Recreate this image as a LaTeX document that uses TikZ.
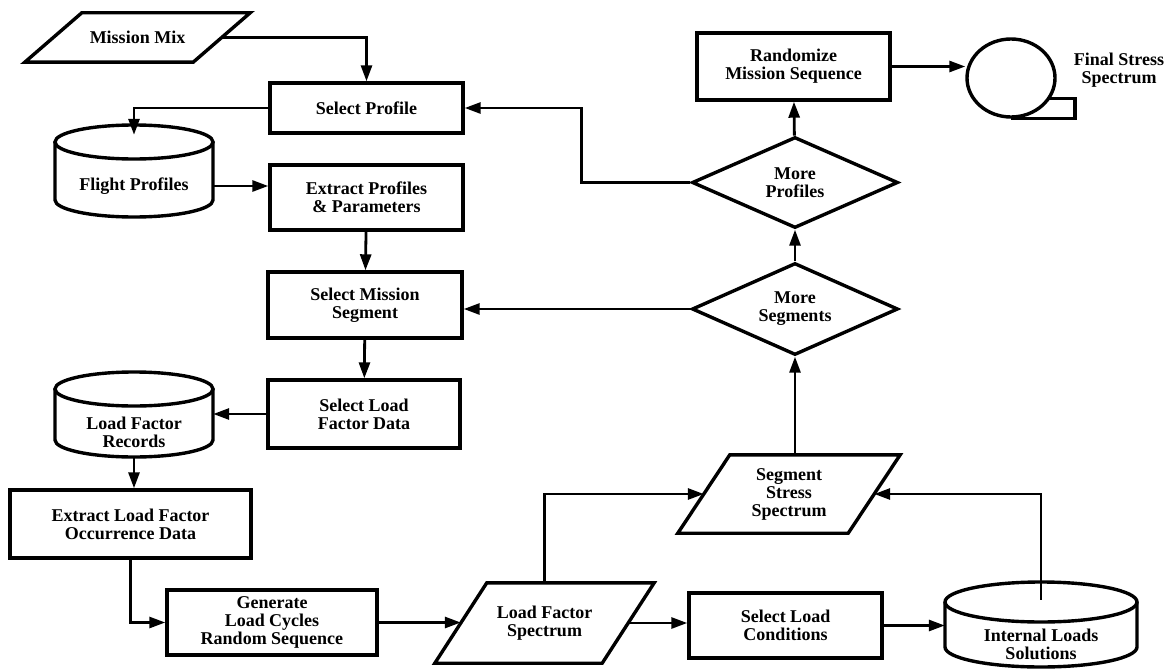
\documentclass[tikz,border=0pt]{standalone}
\usepackage{fontspec}
\setmainfont{Liberation Serif}
\usetikzlibrary{arrows.meta,shapes.geometric}

\begin{document}
\begin{tikzpicture}[x=1pt, y=-1pt,
  every node/.style={font=\fontsize{18}{18}\selectfont\bfseries, align=center, inner sep=0pt},
  box/.style={draw, line width=3.4pt, rectangle},
  decide/.style={draw, line width=3.4pt, diamond, aspect=2.2},
  flow/.style={line width=2.8pt, -{Triangle[length=16pt,width=11pt]}}]

  \useasboundingbox (0,0) rectangle (1167,669);

  % left column
  \node[minimum width=168pt, minimum height=49pt] (mix) at (137.5,37.5) {Mission Mix};
  \node[box, minimum width=193pt, minimum height=50pt] (selprof) at (366.5,108) {Select Profile};
  \node[box, minimum width=193pt, minimum height=65pt] (extprof) at (366.5,197.5) {Extract Profiles\\\& Parameters};
  \node[box, minimum width=194pt, minimum height=66pt] (selseg) at (365,305) {Select Mission\\Segment};
  \node[box, minimum width=192pt, minimum height=68pt] (sellfd) at (364,414) {Select Load\\Factor Data};
  \node[box, minimum width=241pt, minimum height=68pt] (extlf) at (130.5,524) {Extract Load Factor\\Occurrence Data};
  \node[box, minimum width=210pt, minimum height=65pt] (gen) at (272,622.5) {Generate\\Load Cycles\\Random Sequence};

  % databases
  \node[minimum width=158pt, minimum height=102pt] (fp) at (134,186) {Flight Profiles};
  \node[minimum width=158pt, minimum height=50pt] (lfr) at (134,432) {Load Factor\\Records};
  \node[minimum width=192pt, minimum height=88pt] (ils) at (1041,644) {Internal Loads\\Solutions};
  \foreach \cx/\top/\bot/\rx/\ry in {134/142/200/79/17, 134/389/440/79/17, 1041/602/647/96/20}{
    \draw[line width=3.4pt] (\cx,\top) ellipse[x radius=\rx, y radius=\ry];
    \draw[line width=3.4pt] (\cx-\rx,\top) -- (\cx-\rx,\bot)
      arc[start angle=180, end angle=0, x radius=\rx, y radius=\ry] -- (\cx+\rx,\top);
  }

  % bottom row and right column
  \node[minimum width=167pt, minimum height=80pt] (lfs) at (544.5,623) {Load Factor\\Spectrum};
  \node[box, minimum width=193pt, minimum height=65pt] (selcond) at (785.5,625.5) {Select Load\\Conditions};
  \node[minimum width=170pt, minimum height=78pt] (sss) at (789,494) {Segment\\Stress\\Spectrum};
  \node[decide, minimum width=206pt, minimum height=92pt] (mseg) at (795,309) {More\\Segments};
  \node[decide, minimum width=206pt, minimum height=91pt] (mprof) at (795,182.5) {More\\Profiles};
  \node[box, minimum width=193pt, minimum height=67pt] (rand) at (793.5,66.5) {Randomize\\Mission Sequence};

  % slanted data boxes
  \foreach \n/\off in {mix/57, lfs/52, sss/52}{
    \draw[line width=3.4pt] ([xshift=-\off/2]\n.south west) -- ([xshift=-\off/2]\n.south east)
      -- ([xshift=\off/2]\n.north east) -- ([xshift=\off/2]\n.north west) -- cycle;
  }

  % output tape
  \node[draw, line width=3.4pt, ellipse, minimum width=88pt, minimum height=78pt] (tape) at (1011,78) {};
  \draw[line width=3.4pt] (tape.south) -- ++(64,0) -- ++(0,-20) -- ++(-26,0);
  \node (fsslbl) at (1119,70) {Final Stress\\Spectrum};

  \draw[flow] (mix.east) -| (selprof.north);
  \draw[flow] (selprof.west) -| (fp.north);
  \draw[flow] (fp.east) -- (fp.east -| extprof.west);
  \draw[flow] (extprof) -- (selseg);
  \draw[flow] (selseg) -- (sellfd);
  \draw[flow] (sellfd.west) -- (sellfd.west -| lfr.east);
  \draw[flow] (lfr.south) -- (lfr.south |- extlf.north);
  \draw[flow] (extlf.south) |- (gen.west);
  \draw[flow] (gen.east) -- (gen.east -| lfs.west);
  \draw[flow] (lfs.north) |- (sss.west);
  \draw[flow] (lfs.east) -- (lfs.east -| selcond.west);
  \draw[flow] (selcond.east) -- (selcond.east -| ils.west);
  \draw[flow] (ils.north) |- (sss.east);
  \draw[flow] (mseg.south |- sss.north) -- (mseg.south);
  \draw[flow] (mseg.west) -- (mseg.west -| selseg.east);
  \draw[flow] (mseg) -- (mprof);
  \draw[flow] (mprof.west) -- ++(-109,0) |- (selprof.east);
  \draw[flow] (mprof) -- (rand);
  \draw[flow] (rand.east) -- (rand.east -| tape.west);

\end{tikzpicture}
\end{document}
